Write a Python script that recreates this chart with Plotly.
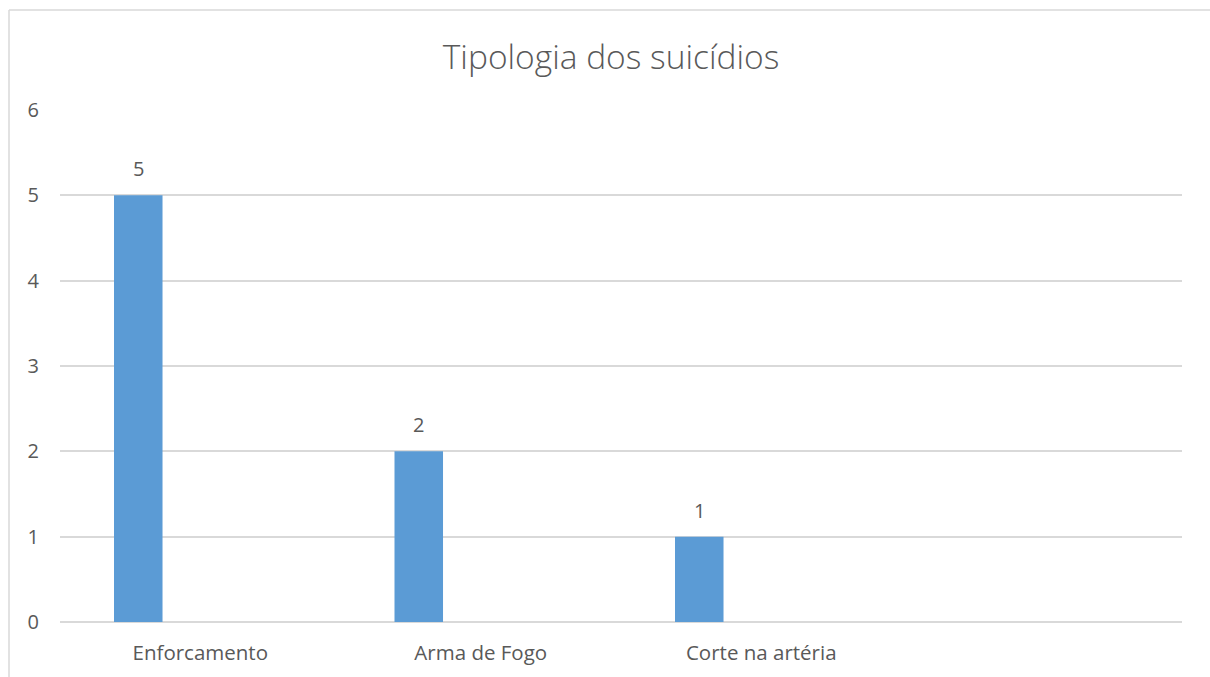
import plotly.graph_objects as go

categories = ["Enforcamento", "Arma de Fogo", "Corte na artéria"]
values = [5, 2, 1]
y_ticks = [0, 1, 2, 3, 4, 5, 6]
title_text = "Tipologia dos suicídios"

TEXT = "#595959"
GRID = "#D9D9D9"
BAR = "#5B9BD5"
FONT = "Open Sans"

W, H = 1210, 677
ML, MR, MT, MB = 60, 28, 110, 55
PW = W - ML - MR
PH = H - MT - MB

fig = go.Figure()
fig.add_trace(go.Bar(
    x=categories, y=values,
    marker=dict(color=BAR, line=dict(width=0)),
    width=0.173, offset=-0.3075,
    hoverinfo="x+y",
))

for c, v in zip(categories, values):
    fig.add_annotation(
        x=c, y=v, text=str(v), showarrow=False,
        xanchor="center", yanchor="bottom", xshift=-62, yshift=11,
        font=dict(family=FONT, size=20, color=TEXT),
    )

# chart border (left and top edges)
fig.add_shape(type="line", xref="paper", yref="paper",
              x0=(9 - ML) / PW, x1=(9 - ML) / PW,
              y0=(H - MB - 700) / PH, y1=(H - MB - 10) / PH,
              line=dict(color=GRID, width=1.5))
fig.add_shape(type="line", xref="paper", yref="paper",
              x0=(9 - ML) / PW, x1=(1230 - ML) / PW,
              y0=(H - MB - 10) / PH, y1=(H - MB - 10) / PH,
              line=dict(color=GRID, width=1.5))

fig.update_layout(
    width=W, height=H,
    margin=dict(l=ML, r=MR, t=MT, b=MB, autoexpand=False),
    paper_bgcolor="white", plot_bgcolor="white",
    showlegend=False,
    title=dict(text=title_text, x=0.505, xanchor="center", y=1 - 57 / H, yanchor="middle",
               font=dict(family=FONT, size=33.5, color=TEXT, weight=300)),
    xaxis=dict(
        type="category", categoryarray=categories, range=[-0.5, 3.5],
        showgrid=False, showline=False, zeroline=False, ticks="",
        tickfont=dict(family=FONT, size=20.5, color=TEXT),
        ticklabelstandoff=16, automargin=False,
    ),
    yaxis=dict(
        range=[0, 6], tickvals=y_ticks, showgrid=True, gridcolor=GRID, gridwidth=2,
        zeroline=True, zerolinecolor=GRID, zerolinewidth=2, showline=False, ticks="",
        tickfont=dict(family=FONT, size=20, color=TEXT),
        ticklabelstandoff=20, automargin=False,
    ),
)

fig.write_html("out.html")
